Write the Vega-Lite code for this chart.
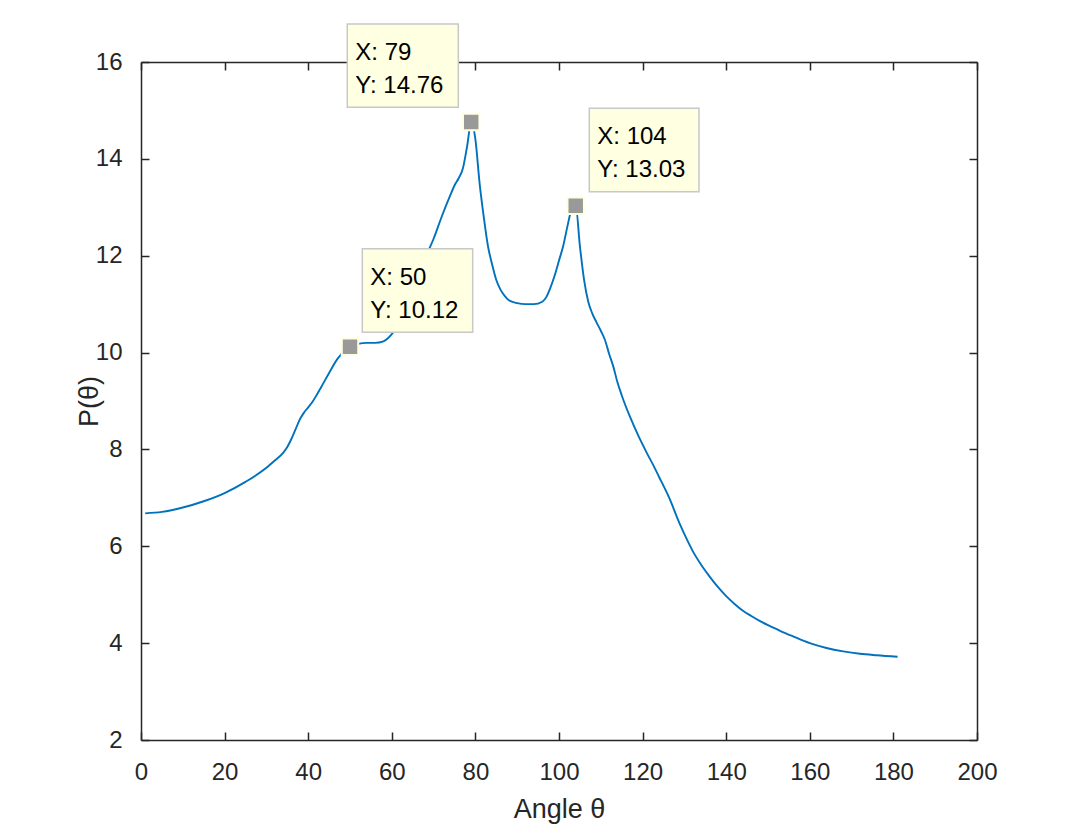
{
  "$schema": "https://vega.github.io/schema/vega-lite/v6.json",
  "autosize": "none",
  "width": 836,
  "height": 678,
  "padding": {"left": 141, "top": 62, "right": 103, "bottom": 90},
  "background": "white",
  "config": {
    "view": {"stroke": null},
    "font": "Liberation Sans",
    "axis": {
      "grid": false,
      "domainColor": "#262626",
      "domainWidth": 1.5,
      "tickColor": "#262626",
      "tickWidth": 1.5,
      "tickSize": -8,
      "labelColor": "#262626",
      "labelFont": "Liberation Sans",
      "labelFontSize": 24,
      "labelFlush": false,
      "labelOverlap": false,
      "labelBound": false,
      "titleColor": "#262626",
      "titleFont": "Liberation Sans",
      "titleFontSize": 27,
      "titleFontWeight": "normal"
    }
  },
  "datasets": {
    "curve": [
      {"angle": 1, "P": 6.68}, {"angle": 5, "P": 6.71}, {"angle": 10, "P": 6.8}, {"angle": 15, "P": 6.93},
      {"angle": 20, "P": 7.1}, {"angle": 25, "P": 7.33}, {"angle": 30, "P": 7.62}, {"angle": 32, "P": 7.77},
      {"angle": 34, "P": 7.93}, {"angle": 35, "P": 8.05}, {"angle": 36, "P": 8.22}, {"angle": 37, "P": 8.42},
      {"angle": 38, "P": 8.62}, {"angle": 39, "P": 8.76}, {"angle": 40, "P": 8.87}, {"angle": 41, "P": 8.98},
      {"angle": 42, "P": 9.12}, {"angle": 43, "P": 9.27}, {"angle": 45, "P": 9.58}, {"angle": 47, "P": 9.87},
      {"angle": 49, "P": 10.06}, {"angle": 50, "P": 10.12}, {"angle": 52, "P": 10.18}, {"angle": 54, "P": 10.2},
      {"angle": 56, "P": 10.2}, {"angle": 58, "P": 10.23}, {"angle": 59, "P": 10.29}, {"angle": 60, "P": 10.38},
      {"angle": 62, "P": 10.65}, {"angle": 64, "P": 11.0}, {"angle": 66, "P": 11.45}, {"angle": 68, "P": 11.95},
      {"angle": 70, "P": 12.35}, {"angle": 72, "P": 12.82}, {"angle": 74, "P": 13.25}, {"angle": 75, "P": 13.45},
      {"angle": 76, "P": 13.6}, {"angle": 77, "P": 13.8}, {"angle": 78, "P": 14.25}, {"angle": 79, "P": 14.76},
      {"angle": 80, "P": 14.4}, {"angle": 81, "P": 13.5}, {"angle": 82, "P": 12.8}, {"angle": 83, "P": 12.2},
      {"angle": 84, "P": 11.82}, {"angle": 85, "P": 11.5}, {"angle": 86, "P": 11.3}, {"angle": 87, "P": 11.17},
      {"angle": 88, "P": 11.08}, {"angle": 90, "P": 11.02}, {"angle": 92, "P": 11.0}, {"angle": 94, "P": 11.0},
      {"angle": 96, "P": 11.05}, {"angle": 97, "P": 11.15}, {"angle": 98, "P": 11.35}, {"angle": 99, "P": 11.6},
      {"angle": 100, "P": 11.9}, {"angle": 101, "P": 12.2}, {"angle": 102, "P": 12.6}, {"angle": 103, "P": 12.95},
      {"angle": 104, "P": 13.03}, {"angle": 105, "P": 12.2}, {"angle": 106, "P": 11.5}, {"angle": 107, "P": 11.05},
      {"angle": 108, "P": 10.8}, {"angle": 109, "P": 10.62}, {"angle": 110, "P": 10.45}, {"angle": 111, "P": 10.26},
      {"angle": 112, "P": 9.97}, {"angle": 113, "P": 9.71}, {"angle": 114, "P": 9.38}, {"angle": 115, "P": 9.12},
      {"angle": 117, "P": 8.67}, {"angle": 119, "P": 8.28}, {"angle": 121, "P": 7.93}, {"angle": 123, "P": 7.6},
      {"angle": 124, "P": 7.42}, {"angle": 125, "P": 7.25}, {"angle": 126, "P": 7.07}, {"angle": 127, "P": 6.87},
      {"angle": 128, "P": 6.65}, {"angle": 129, "P": 6.44}, {"angle": 130, "P": 6.25}, {"angle": 131, "P": 6.07},
      {"angle": 132, "P": 5.9}, {"angle": 134, "P": 5.62}, {"angle": 136, "P": 5.38}, {"angle": 138, "P": 5.16},
      {"angle": 140, "P": 4.97}, {"angle": 142, "P": 4.81}, {"angle": 144, "P": 4.67}, {"angle": 146, "P": 4.56},
      {"angle": 148, "P": 4.46}, {"angle": 150, "P": 4.37}, {"angle": 153, "P": 4.25}, {"angle": 156, "P": 4.14},
      {"angle": 160, "P": 4.0}, {"angle": 164, "P": 3.9}, {"angle": 168, "P": 3.83}, {"angle": 172, "P": 3.78},
      {"angle": 176, "P": 3.75}, {"angle": 181, "P": 3.72}
    ],
    "tips": [
      {"angle": 50, "P": 10.12, "bx1": 52.94, "bx2": 79.35, "by1": 10.418, "by2": 12.142, "line1": "X: 50", "line2": "Y: 10.12"},
      {"angle": 79, "P": 14.76, "bx1": 49.35, "bx2": 75.91, "by1": 15.064, "by2": 16.784, "line1": "X: 79", "line2": "Y: 14.76"},
      {"angle": 104, "P": 13.03, "bx1": 107.25, "bx2": 133.49, "by1": 13.322, "by2": 15.043, "line1": "X: 104", "line2": "Y: 13.03"}
    ]
  },
  "layer": [
    {
      "data": {"name": "curve"},
      "mark": {"type": "line", "color": "#0072BD", "strokeWidth": 1.9, "interpolate": "monotone", "clip": true},
      "encoding": {
        "x": {
          "field": "angle", "type": "quantitative",
          "scale": {"domain": [0, 200], "nice": false, "zero": false},
          "axis": {"orient": "bottom", "values": [0, 20, 40, 60, 80, 100, 120, 140, 160, 180, 200], "labelPadding": 47, "labelBaseline": "alphabetic", "title": "Angle θ", "titleBaseline": "alphabetic", "titleY": 77, "titleX": 418}
        },
        "y": {
          "field": "P", "type": "quantitative",
          "scale": {"domain": [2, 16], "nice": false, "zero": false},
          "axis": {"orient": "left", "values": [2, 4, 6, 8, 10, 12, 14, 16], "labelPadding": 27, "labelBaseline": "middle", "title": "P(θ)", "titleAngle": -90, "titleBaseline": "alphabetic", "titleX": -44, "titleY": 339, "titleAlign": "center"}
        }
      }
    },
    {
      "data": {"name": "tips"},
      "mark": {"type": "point", "shape": "square", "size": 270, "filled": true, "fill": "#999999", "stroke": "#FFFFE0", "strokeWidth": 2, "opacity": 1},
      "encoding": {
        "x": {"field": "angle", "type": "quantitative", "axis": {"orient": "top", "values": [0, 20, 40, 60, 80, 100, 120, 140, 160, 180, 200], "labels": false, "title": null}},
        "y": {"field": "P", "type": "quantitative", "axis": {"orient": "right", "values": [2, 4, 6, 8, 10, 12, 14, 16], "labels": false, "title": null}}
      }
    },
    {
      "data": {"name": "tips"},
      "mark": {"type": "rect", "fill": "#FFFFE1", "stroke": "#C8C8C8", "strokeWidth": 1.5},
      "encoding": {
        "x": {"field": "bx1", "type": "quantitative", "axis": null},
        "x2": {"field": "bx2"},
        "y": {"field": "by1", "type": "quantitative", "axis": null},
        "y2": {"field": "by2"}
      }
    },
    {
      "data": {"name": "tips"},
      "mark": {"type": "text", "align": "left", "baseline": "alphabetic", "dx": 8, "dy": 36, "font": "Liberation Sans", "fontSize": 24, "color": "#000000"},
      "encoding": {
        "x": {"field": "bx1", "type": "quantitative", "axis": null},
        "y": {"field": "by2", "type": "quantitative", "axis": null},
        "text": {"field": "line1"}
      }
    },
    {
      "data": {"name": "tips"},
      "mark": {"type": "text", "align": "left", "baseline": "alphabetic", "dx": 8, "dy": 69, "font": "Liberation Sans", "fontSize": 24, "color": "#000000"},
      "encoding": {
        "x": {"field": "bx1", "type": "quantitative", "axis": null},
        "y": {"field": "by2", "type": "quantitative", "axis": null},
        "text": {"field": "line2"}
      }
    }
  ]
}
